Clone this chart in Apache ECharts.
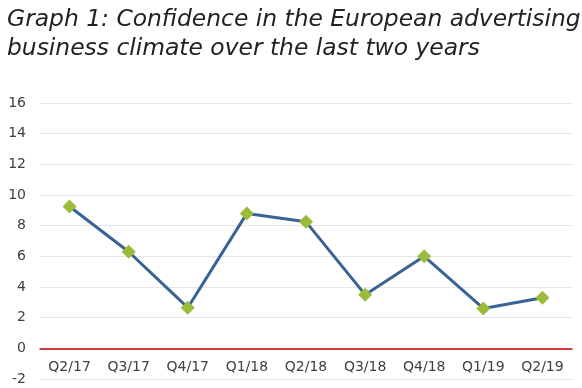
<!DOCTYPE html>
<html><head><meta charset="utf-8">
<script src="https://cdn.jsdelivr.net/npm/echarts@6/dist/echarts.min.js"></script>
<style>html,body{margin:0;padding:0;background:#fff}#c{width:582px;height:388px}</style>
</head><body><div id="c"></div>
<script>
const titleText = "Graph 1: Confidence in the European advertising\nbusiness climate over the last two years";
const categories = ["Q2/17","Q3/17","Q4/17","Q1/18","Q2/18","Q3/18","Q4/18","Q1/19","Q2/19"];
const values = [9.25, 6.3, 2.65, 8.8, 8.25, 3.5, 6.0, 2.6, 3.3];
const yTicks = {min: -2, max: 16, interval: 2};

const H = 388, gridTop = 103, gridBottom = 9;
const plotH = H - gridTop - gridBottom;
const zeroOffset = -plotH * (0 - yTicks.min) / (yTicks.max - yTicks.min);

const chart = echarts.init(document.getElementById('c'));
chart.setOption({
  animation: false,
  title: {
    text: titleText, left: 2, top: 0,
    textStyle: {fontFamily: "DejaVu Sans", fontStyle: "italic", fontWeight: "normal", fontSize: 23.4, lineHeight: 29, color: "#222"}
  },
  grid: {left: 40, right: 10, top: gridTop, bottom: gridBottom, containLabel: false, outerBoundsMode: 'none'},
  xAxis: {
    type: "category", data: categories, boundaryGap: true, position: "bottom",
    offset: zeroOffset,
    axisLine: {onZero: false, lineStyle: {color: "#C00000", width: 1.5}},
    axisTick: {show: false},
    axisLabel: {color: "#404040", fontSize: 14, fontFamily: "DejaVu Sans", margin: 12}
  },
  yAxis: {
    type: "value", min: yTicks.min, max: yTicks.max, interval: yTicks.interval,
    axisLine: {show: false}, axisTick: {show: false},
    axisLabel: {color: "#404040", fontSize: 14, fontFamily: "DejaVu Sans", margin: 14},
    splitLine: {lineStyle: {color: "#E6E6E6", width: 1}}
  },
  series: [{
    type: "line", data: values,
    lineStyle: {color: "#386395", width: 3},
    symbol: "diamond", symbolSize: 14,
    itemStyle: {color: "#9BBB3B"}
  }]
});
</script></body></html>
